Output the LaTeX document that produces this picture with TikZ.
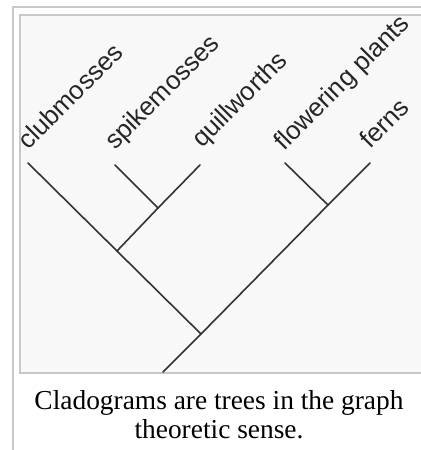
\documentclass[tikz,border=0pt]{standalone}
\usepackage{fontspec}
\setmainfont{Liberation Serif}
\setsansfont{Liberation Sans}
\usepackage{tikz}
\usetikzlibrary{positioning,calc}
\definecolor{framegray}{HTML}{C8C8C8}
\definecolor{panelgray}{HTML}{F8F8F8}
\definecolor{branchgray}{HTML}{333333}

\begin{document}
\begin{tikzpicture}[x=0.5pt, y=-0.5pt,
  frm/.style={draw=framegray, line width=1pt},
  br/.style={draw=branchgray, line width=0.8pt, line cap=round},
  taxon/.style={rotate=45, anchor=base west, inner sep=0pt, font=\sffamily\fontsize{12.9}{14}\selectfont, text=black!85}]
\useasboundingbox (0,0) rectangle (420,450);
\fill[white] (0,0) rectangle (420,450);
\draw[frm] (13,460) -- (13,7) -- (430,7);
\draw[frm, fill=panelgray] (430,15) -- (20,15) -- (20,373) -- (430,373);
% leaves
\coordinate (club) at (28,163);
\coordinate (spike) at (115,165);
\coordinate (quill) at (200,165);
\coordinate (flow) at (285,163);
\coordinate (fern) at (370,163);
% inner nodes
\coordinate (sq) at (158,208);
\coordinate (lyc) at (117,251);
\coordinate (ff) at (328,205);
\coordinate (root) at (201,334);
\coordinate (base) at (163,372);
\draw[br] (club) -- (lyc); \draw[br] (lyc) -- (root);
\draw[br] (spike) -- (sq); \draw[br] (quill) -- (sq); \draw[br] (sq) -- (lyc);
\draw[br] (flow) -- (ff); \draw[br] (fern) -- (ff); \draw[br] (ff) -- (root);
\draw[br] (root) -- (base);
% labels
\node[taxon] (lclub) at ($(club)+(0,-12)$) {clubmosses};
\node[taxon] (lspike) at ($(spike)+(0,-14)$) {spikemosses};
\node[taxon] (lquill) at ($(quill)+(2,-16)$) {quillworths};
\node[taxon] (lflow) at ($(flow)+(-1,-11)$) {flowering plants};
\node[taxon] (lfern) at ($(fern)+(0,-13)$) {ferns};
\node[align=center, inner sep=0pt, font=\fontsize{13.7}{14.6}\selectfont] (caption) at (219,415) {Cladograms are trees in the graph\\theoretic sense.};
\end{tikzpicture}
\end{document}
